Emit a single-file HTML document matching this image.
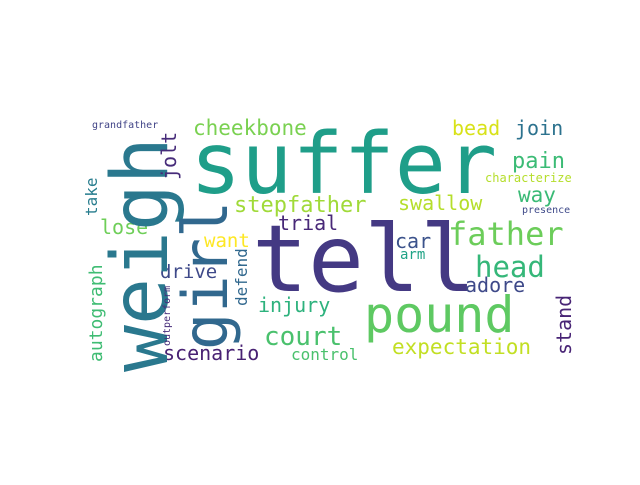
<!DOCTYPE html>
<html><head><meta charset="utf-8"><style>
html,body{margin:0;padding:0;background:#fff;}
svg text{font-family:"DejaVu Sans Mono","Liberation Mono",monospace;}
</style></head><body>
<svg width="640" height="480" viewBox="0 0 640 480">
<rect width="640" height="480" fill="#fff"/>
<g id="words"></g>
</svg>
<script>
const words = ["suffer","tell","pound","father","head","adore","car","arm","swallow","trial","stepfather","expectation","control","scenario","court","injury","drive","want","lose","cheekbone","grandfather","bead","join","pain","way","characterize","presence","weigh","girl","jolt","take","autograph","defend","outperform","stand"];
const sizes = [85,93,50,32,29,20,20,14,20,20,22,21,16,20,26,20,19,19,20,21,10,20,20,22,21,12,10,78,62,20,16,18,16,10,20];
const colors = ["#1f9e89","#443983","#5ec962","#6ccd5a","#35b779","#3e4989","#3b528b","#20a386","#b5de2b","#482878","#a0da39","#c2df23","#4ac16d","#482173","#4ac16d","#2db27d","#3e4989","#fde725","#6ece58","#7ad151","#414487","#d8e219","#2c728e","#3bbb75","#3aba76","#b5de2b","#3e4989","#2a788e","#31688e","#472c7a","#287d8e","#3fbc73","#31688e","#472d7b","#482475"];
const layout = [
 [190,193,0],[252,291,0],[364,332,0],[448,245,0],[475,277,0],[465,292,0],[395,248,0],[400,259,0],[398,210,0],[278,230,0],[234,212,0],[392,354,0],[291,360,0],[163,360,0],[264,345,0],[258,312,0],[160,278,0],[204,247,0],[100,234,0],[193,135,0],[92,128,0],[452,135,0],[515,135,0],[512,168,0],[518,202,0],[485,182,0],[522,213,0],
 [167,372,1],[227,350,1],[176,180,1],[97,216,1],[102,362,1],[247,306,1],[170,346,1],[571,355,1]
];
const g = document.getElementById('words');
words.forEach((w,i)=>{
  const t = document.createElementNS('http://www.w3.org/2000/svg','text');
  const [x,y,r] = layout[i];
  t.setAttribute('x', x);
  t.setAttribute('y', y);
  if (r) t.setAttribute('transform', `rotate(-90 ${x} ${y})`);
  t.setAttribute('font-size', sizes[i]);
  t.setAttribute('fill', colors[i]);
  
  
  t.textContent = w;
  g.appendChild(t);
});
</script>
</body></html>
